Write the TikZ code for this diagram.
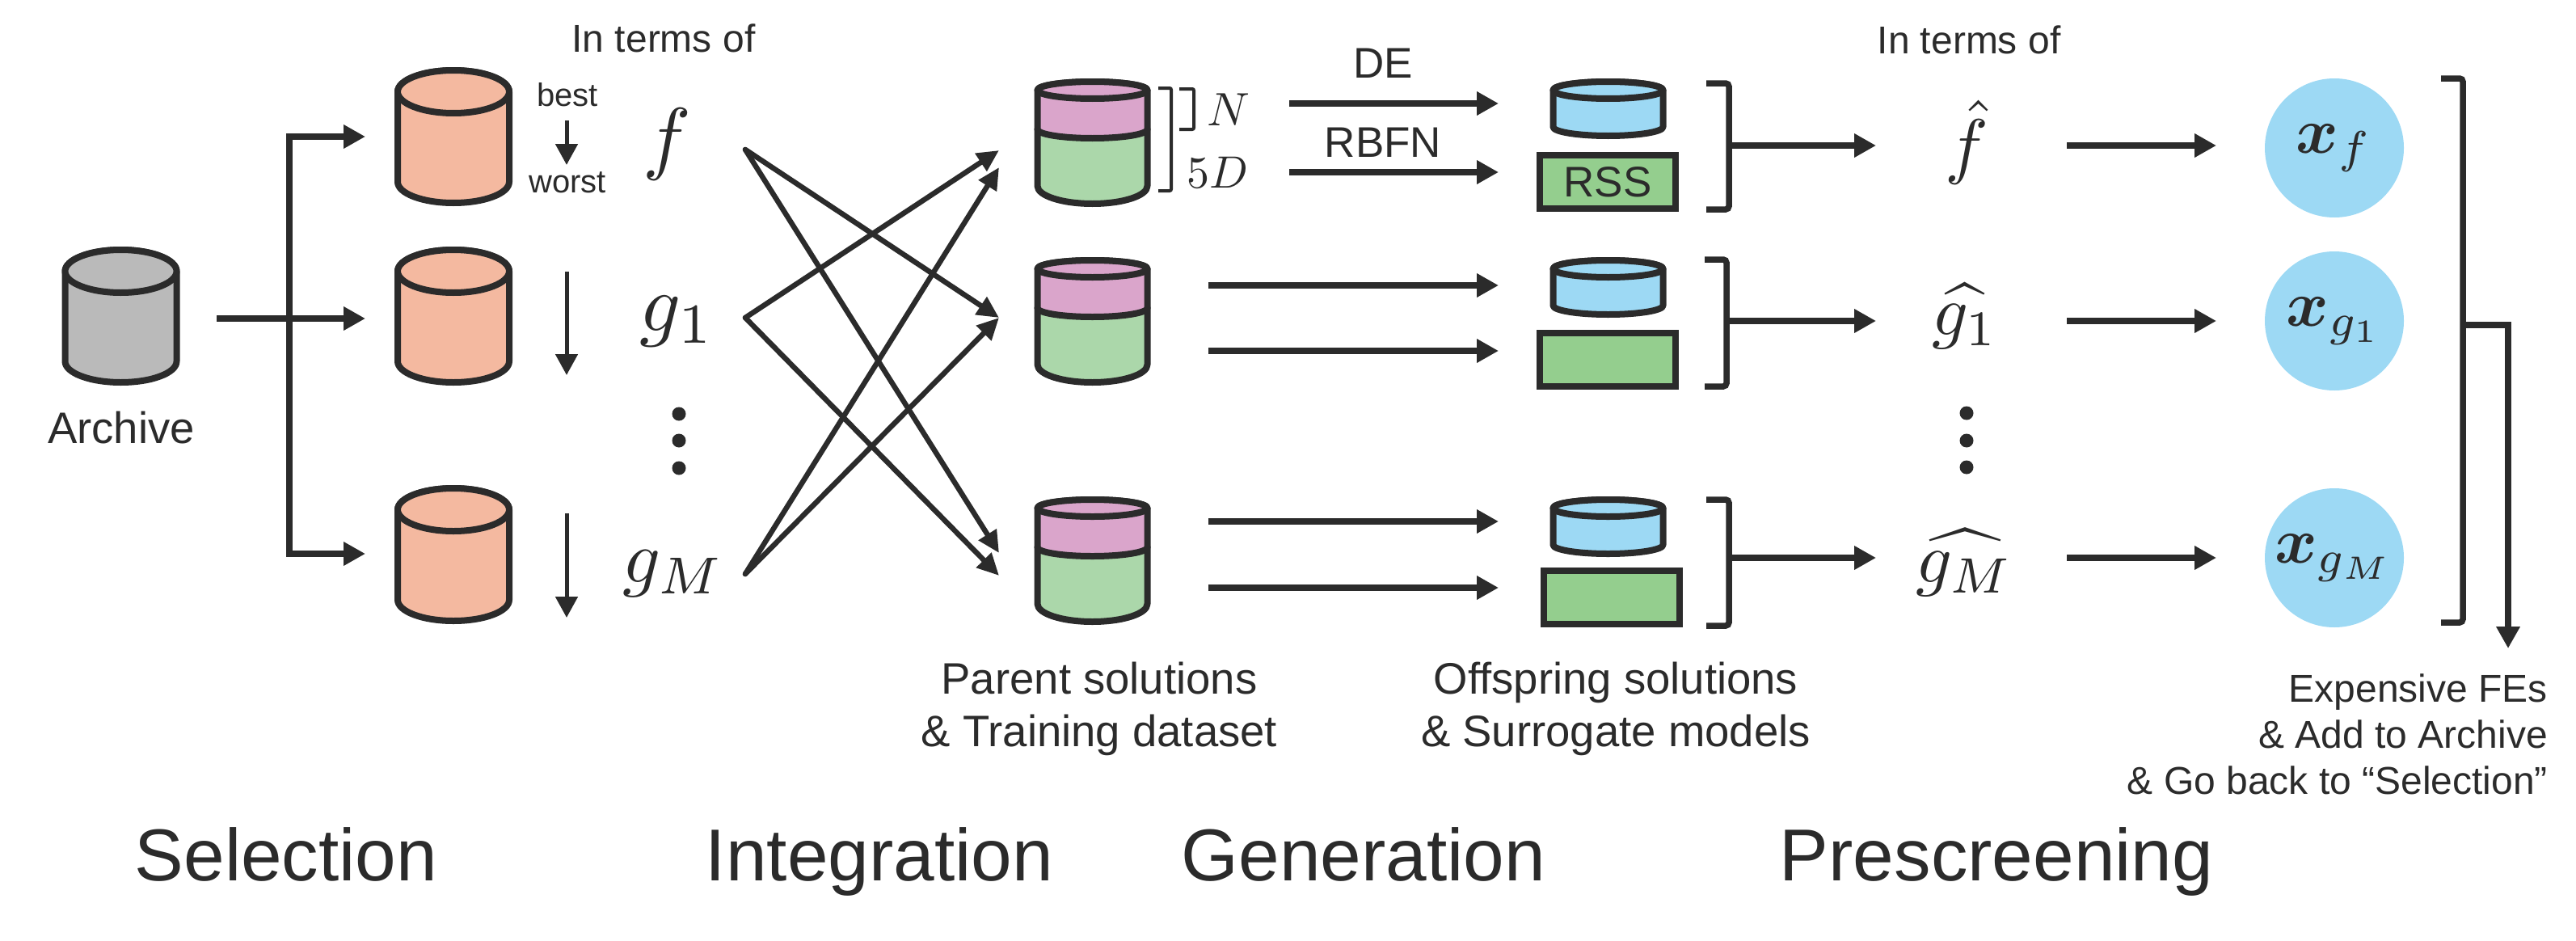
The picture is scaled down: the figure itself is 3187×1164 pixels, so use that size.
\documentclass[tikz,border=0pt]{standalone}
\usepackage{amsmath}
\usepackage{amsbsy}
\usepackage{fontspec}
\setmainfont{Liberation Sans}
\usetikzlibrary{arrows.meta}
\definecolor{ink}{HTML}{2B2B2B}
\definecolor{cgrey}{HTML}{BABABA}
\definecolor{corange}{HTML}{F4B9A0}
\definecolor{cpink}{HTML}{DAA5CB}
\definecolor{cgreen}{HTML}{ABD7AA}
\definecolor{cblue}{HTML}{9DD9F4}
\definecolor{crect}{HTML}{94CE8E}
\tikzset{
  arr/.style={draw=ink,line width=7.5pt,-{Triangle[length=27pt,width=28pt]}},
  xarr/.style={draw=ink,line width=6.5pt,line cap=round,-{Triangle[length=27pt,width=25pt]}},
  rankarr/.style={draw=ink,line width=5pt,-{Triangle[length=26pt,width=27pt]}},
  brk/.style={draw=ink,line width=7.5pt,rounded corners=4pt},
  thinbrk/.style={draw=ink,line width=4pt,rounded corners=2pt},
  outline/.style={draw=ink,line width=8pt,line join=round},
  lab/.style={text=ink,inner sep=0pt,outer sep=0pt,align=center},
  small/.style={lab,font=\fontsize{40}{46}\selectfont},
  mid/.style={lab,font=\fontsize{48}{57}\selectfont},
  med/.style={lab,font=\fontsize{54.5}{65}\selectfont},
  big/.style={lab,anchor=base,font=\fontsize{91}{100}\selectfont},
  mlab/.style={text=ink,inner sep=0pt,outer sep=0pt,scale=10},
  dotm/.style={circle,fill=ink,inner sep=0pt,minimum size=17pt},
  sol/.style={circle,fill=cblue,inner sep=0pt,text=ink,scale=8,minimum size=21.5pt},
  surr/.style={rectangle,draw=ink,line width=8pt,fill=crect,minimum width=168pt,minimum height=66pt,inner sep=0pt,text=ink,font=\fontsize{53}{60}\selectfont},
  anchorbox/.style={inner sep=0pt,outer sep=0pt,minimum width=144pt}
}
% name, x centre, outer top y, colour
\newcommand{\tallcan}[4]{%
  \path[outline,fill=#4] (#2-69,#3+30.5) -- (#2-69,#3+142) arc[start angle=180,end angle=0,x radius=69,y radius=26] -- (#2+69,#3+30.5) arc[start angle=0,end angle=-180,x radius=69,y radius=26.5] -- cycle;
  \path[outline,fill=#4] (#2,#3+30.5) ellipse[x radius=69,y radius=26.5];
  \node[anchorbox,minimum height=172pt] (#1) at (#2,#3+86) {};}
% name, x centre, outer top y
\newcommand{\datacan}[3]{%
  \path[outline,fill=cgreen] (#2-68,#3+63) -- (#2-68,#3+133) arc[start angle=180,end angle=0,x radius=68,y radius=22] -- (#2+68,#3+63) arc[start angle=0,end angle=-180,x radius=68,y radius=11] -- cycle;
  \path[outline,fill=cpink] (#2-68,#3+14.5) -- (#2-68,#3+63) arc[start angle=180,end angle=0,x radius=68,y radius=11] -- (#2+68,#3+14.5) arc[start angle=0,end angle=-180,x radius=68,y radius=10.5] -- cycle;
  \path[outline,fill=cpink] (#2,#3+14.5) ellipse[x radius=68,y radius=10.5];
  \node[anchorbox,minimum height=159pt] (#1) at (#2,#3+79.5) {};}
% name, x centre, outer top y
\newcommand{\offcan}[3]{%
  \path[outline,fill=cblue] (#2-68,#3+14.5) -- (#2-68,#3+60) arc[start angle=180,end angle=0,x radius=68,y radius=11] -- (#2+68,#3+14.5) arc[start angle=0,end angle=-180,x radius=68,y radius=10.5] -- cycle;
  \path[outline,fill=cblue] (#2,#3+14.5) ellipse[x radius=68,y radius=10.5];
  \node[anchorbox,minimum height=75pt] (#1) at (#2,#3+37.5) {};}
\begin{document}
\begin{tikzpicture}[x=1pt,y=-1pt]
\useasboundingbox (0,0) rectangle (3187,1164);

% --- Selection
\tallcan{archive}{149.5}{305}{cgrey}
\tallcan{sel1}{561}{83}{corange}
\tallcan{sel2}{561}{305}{corange}
\tallcan{sel3}{561}{600}{corange}
\node[med] (archlab) at (150,529) {Archive};

\coordinate (archOut) at (268,394);
\coordinate (trunk) at (358,394);
\coordinate (in1) at (452,169);
\coordinate (in2) at (452,394);
\coordinate (in3) at (452,685);
\draw[arr] (archOut) -- (in2);
\draw[arr] (trunk) |- (in1);
\draw[arr] (trunk) |- (in3);

\node[mid] (terms1) at (821,47) {In terms of};
\node[small] (best) at (702,117) {best};
\node[small] (worst) at (702,226) {worst};
\coordinate (r1a) at (701,149); \coordinate (r1b) at (701,204);
\coordinate (r2a) at (701,336); \coordinate (r2b) at (701,464);
\coordinate (r3a) at (701,635); \coordinate (r3b) at (701,764);
\draw[rankarr] (r1a) -- (r1b);
\draw[rankarr] (r2a) -- (r2b);
\draw[rankarr] (r3a) -- (r3b);

\node[mlab] (f) at (825,178) {$f$};
\node[mlab] (g1) at (838,398) {$g_1$};
\node[mlab,scale=0.92] (gM) at (833,710) {$g_M$};
\node[dotm] (ld1) at (840,512) {};
\node[dotm] (ld2) at (840,545) {};
\node[dotm] (ld3) at (840,579) {};

% --- Integration
\coordinate (fOut) at (922,185);
\coordinate (g1Out) at (922,393);
\coordinate (gMOut) at (922,710);
\coordinate (t1a) at (1236,186);
\coordinate (t1b) at (1236,207);
\coordinate (t2) at (1236,393);
\coordinate (t3a) at (1236,684);
\coordinate (t3b) at (1236,712);
\draw[xarr] (fOut) -- (t2);
\draw[xarr] (fOut) -- (t3a);
\draw[xarr] (g1Out) -- (t1a);
\draw[xarr] (g1Out) -- (t3b);
\draw[xarr] (gMOut) -- (t1b);
\draw[xarr] (gMOut) -- (t2);

\datacan{par1}{1351.5}{97}
\datacan{par2}{1351.5}{318}
\datacan{par3}{1351.5}{614}
\draw[thinbrk] (1459,110) -- (1477,110) -- (1477,160) -- (1459,160);
\draw[thinbrk] (1433,109) -- (1449,109) -- (1449,236) -- (1433,236);
\node[mlab,scale=0.58] (nlab) at (1520,136) {$N$};
\node[mlab,scale=0.56] (dlab) at (1506,213) {$5D$};
\node[med] (parlab) at (1360,877) {Parent solutions\\\& Training dataset};

% --- Generation
\offcan{off1}{1989.5}{97}
\offcan{off2}{1989.5}{318}
\offcan{off3}{1989.5}{614}
\node[surr] (rss) at (1989,225) {RSS};
\node[surr] (sur2) at (1989,444.5) {};
\node[surr] (sur3) at (1993.5,739) {};

\node[mid,font=\fontsize{53}{57}\selectfont] (de) at (1711,78) {DE};
\node[med,font=\fontsize{53}{57}\selectfont] (rbfn) at (1711,176) {RBFN};
\coordinate (a1s) at (1595,128); \coordinate (a1e) at (1854,128);
\coordinate (a2s) at (1595,213); \coordinate (a2e) at (1854,213);
\coordinate (a3s) at (1495,353); \coordinate (a3e) at (1854,353);
\coordinate (a4s) at (1495,434); \coordinate (a4e) at (1854,434);
\coordinate (a5s) at (1495,645); \coordinate (a5e) at (1854,645);
\coordinate (a6s) at (1495,727); \coordinate (a6e) at (1854,727);
\foreach \i in {1,...,6} {\draw[arr] (a\i s) -- (a\i e);}
\node[med] (offlab) at (1999,877) {Offspring solutions\\\& Surrogate models};

\draw[brk] (2111,103) -- (2139,103) -- (2139,259) -- (2111,259);
\draw[brk] (2109,321) -- (2136,321) -- (2136,478) -- (2109,478);
\draw[brk] (2111,618) -- (2139,618) -- (2139,774) -- (2111,774);

% --- Prescreening
\coordinate (b1) at (2139,180); \coordinate (h1) at (2321,180);
\coordinate (b2) at (2136,397); \coordinate (h2) at (2321,397);
\coordinate (b3) at (2139,690); \coordinate (h3) at (2321,690);
\draw[arr] (b1) -- (h1);
\draw[arr] (b2) -- (h2);
\draw[arr] (b3) -- (h3);

\node[mid] (terms2) at (2436,49) {In terms of};
\node[mlab,scale=0.9] (fh) at (2433,176) {$\hat{f}$};
\node[mlab,scale=0.88] (g1h) at (2431,391) {$\widehat{g_1}$};
\node[mlab,scale=0.88] (gMh) at (2431,696) {$\widehat{g_M}$};
\node[dotm] (rd1) at (2433,511) {};
\node[dotm] (rd2) at (2433,545) {};
\node[dotm] (rd3) at (2433,578) {};

\coordinate (p1) at (2557,180); \coordinate (q1) at (2742,180);
\coordinate (p2) at (2557,397); \coordinate (q2) at (2742,397);
\coordinate (p3) at (2557,690); \coordinate (q3) at (2742,690);
\draw[arr] (p1) -- (q1);
\draw[arr] (p2) -- (q2);
\draw[arr] (p3) -- (q3);

\node[sol] (xf) at (2888,183) {$\boldsymbol{x}_{f}$};
\node[sol] (xg1) at (2888,397) {$\boldsymbol{x}_{g_1}$};
\node[sol] (xgM) at (2888,690) {$\boldsymbol{x}_{g_M}$};

\draw[brk] (3020,97) -- (3047,97) -- (3047,770) -- (3020,770);
\coordinate (outS) at (3047,402);
\coordinate (outE) at (3103,802);
\draw[arr] (outS) -| (outE);
\node[mid,align=right,anchor=east] (fe) at (3152,908) {Expensive FEs\\\& Add to Archive\\\& Go back to “Selection”};

% --- Stage titles
\node[big] (st1) at (354,1089) {Selection};
\node[big] (st2) at (1088,1089) {Integration};
\node[big] (st3) at (1687,1089) {Generation};
\node[big] (st4) at (2470,1089) {Prescreening};
\end{tikzpicture}
\end{document}
